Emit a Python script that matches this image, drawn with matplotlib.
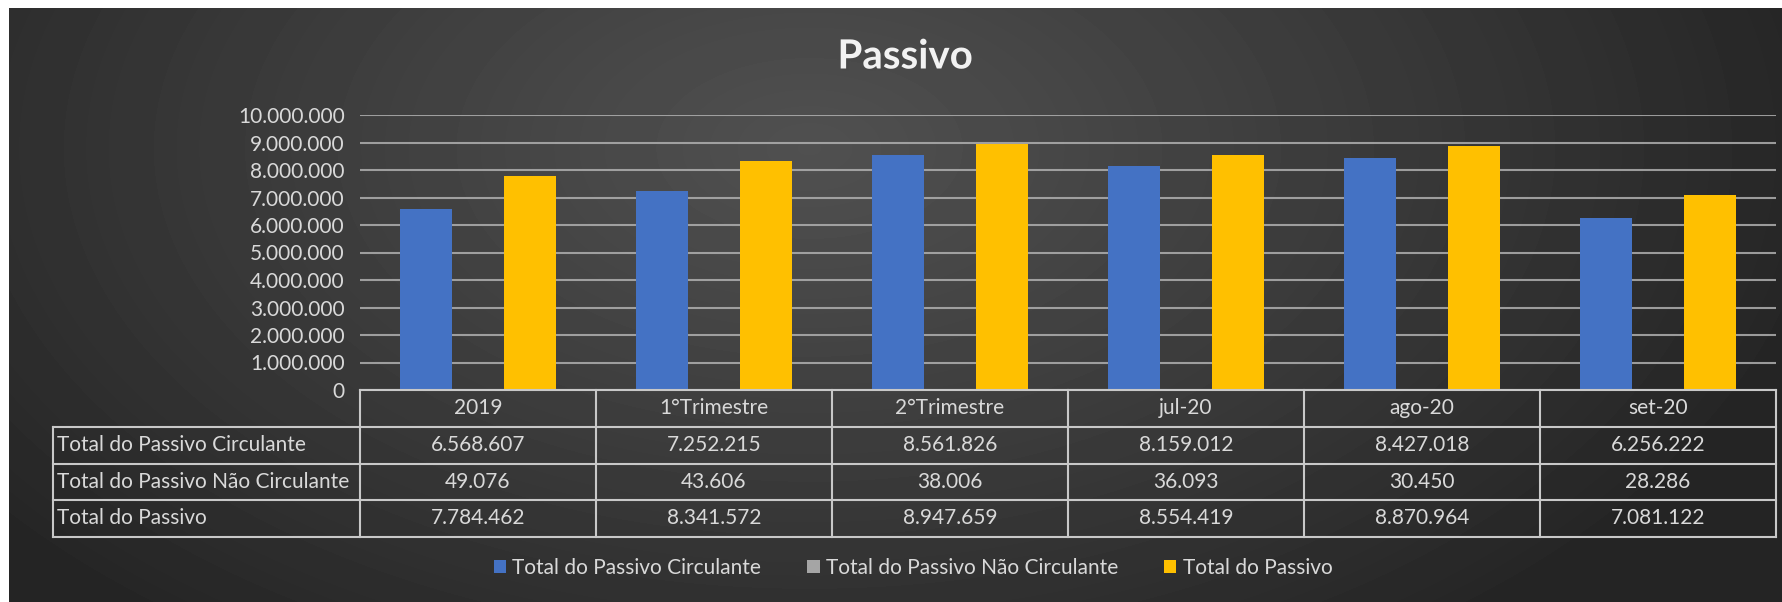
import matplotlib.pyplot as plt
import matplotlib.patheffects as pe
import numpy as np

# data
categories = ['2019', '1°Trimestre', '2°Trimestre', 'jul-20', 'ago-20', 'set-20']
series_names = ['Total do Passivo Circulante', 'Total do Passivo Não Circulante', 'Total do Passivo']
circulante = [6568607, 7252215, 8561826, 8159012, 8427018, 6256222]
nao_circulante = [49076, 43606, 38006, 36093, 30450, 28286]
total_passivo = [7784462, 8341572, 8947659, 8554419, 8870964, 7081122]
series_colors = ['#4472C4', '#A5A5A5', '#FFC000']
yticks = list(range(0, 10000001, 1000000))

plt.rcParams['font.family'] = ['Lato', 'DejaVu Sans']
txt_color = '#d9d9d9'
fs = 15


def br(v):
    # brazilian thousands separator
    return f'{v:,}'.replace(',', '.')


W, H = 1782, 602
fig = plt.figure(figsize=(W / 100, H / 100), dpi=100, facecolor='white')

# dark radial background (Excel chart style)
bg = fig.add_axes([9 / W, 0, 1 - 9 / W, 1 - 8 / H])
bg.set_axis_off()
yy, xx = np.mgrid[0:594, 0:1773]
d = np.sqrt(((xx - 800) / 1050.0) ** 2 + ((yy - 140) / 620.0) ** 2)
d = np.clip(d, 0, 1)
shade = (0x50 - (0x50 - 0x24) * d ** 1.1) / 255.0
bg.imshow(shade, cmap='gray', vmin=0, vmax=1, aspect='auto', interpolation='bilinear')

# pixel overlay for table lines / text
ov = fig.add_axes([0, 0, 1, 1], zorder=3)
ov.set_xlim(0, W)
ov.set_ylim(H, 0)
ov.set_axis_off()
ov.patch.set_alpha(0)

# main bar chart
x0, x1, ytop, ybot = 360, 1776, 115, 390
ax = fig.add_axes([x0 / W, 1 - ybot / H, (x1 - x0) / W, (ybot - ytop) / H], zorder=2)
ax.patch.set_alpha(0)
idx = np.arange(len(categories))
bw = 0.221
handles = []
for k, (vals, name, c) in enumerate(zip([circulante, nao_circulante, total_passivo], series_names, series_colors)):
    b = ax.bar(idx + (k - 1) * bw, vals, width=bw, color=c, label=name, zorder=3)
    handles.append(b)
ax.set_xlim(-0.5, len(categories) - 0.5)
ax.set_ylim(0, 10000000)
ax.set_yticks(yticks)
ax.set_yticklabels([br(v) for v in yticks], color=txt_color, fontsize=fs)
ax.tick_params(axis='y', length=0, pad=11)
ax.set_xticks([])
for s in ax.spines.values():
    s.set_visible(False)
ax.yaxis.grid(True, color='#b0b0b0', lw=1.5, alpha=0.85, zorder=1)
ax.set_axisbelow(True)

# data table under the plot
rows = [circulante, nao_circulante, total_passivo]
row_y = [390, 427, 463.5, 500, 537]
lab_x = 53
cw = (x1 - x0) / len(categories)
lc = '#c8c8c8'
lw = 1.5
ov.plot([x0, x1], [row_y[0], row_y[0]], color=lc, lw=lw)
for yv in row_y[1:]:
    ov.plot([lab_x, x1], [yv, yv], color=lc, lw=lw)
ov.plot([lab_x, lab_x], [row_y[1], row_y[-1]], color=lc, lw=lw)
for i in range(len(categories) + 1):
    ov.plot([x0 + i * cw] * 2, [row_y[0], row_y[-1]], color=lc, lw=lw)
for i, cat in enumerate(categories):
    ov.text(x0 + (i + 0.5) * cw, (row_y[0] + row_y[1]) / 2, cat, ha='center', va='center',
            color=txt_color, fontsize=fs)
for r, (name, vals) in enumerate(zip(series_names, rows)):
    yc = (row_y[r + 1] + row_y[r + 2]) / 2
    ov.text(lab_x + 4, yc, name, ha='left', va='center', color=txt_color, fontsize=fs)
    for i, v in enumerate(vals):
        ov.text(x0 + (i + 0.5) * cw, yc, br(v), ha='center', va='center', color=txt_color, fontsize=fs)

# title
fig.text(905 / W, 1 - 57 / H, 'Passivo', ha='center', va='center', fontsize=29, fontweight='bold',
         color='#f2f2f2', path_effects=[pe.withSimplePatchShadow(offset=(1.5, -1.5), alpha=0.6)])

# legend
leg = fig.legend(handles=handles, loc='center', bbox_to_anchor=(913 / W, 1 - 568 / H), ncol=3,
                 frameon=False, fontsize=fs, handlelength=0.6, handleheight=0.6,
                 handletextpad=0.3, columnspacing=2.2, labelcolor=txt_color)

fig.savefig('out.png', dpi=100, facecolor='white')
